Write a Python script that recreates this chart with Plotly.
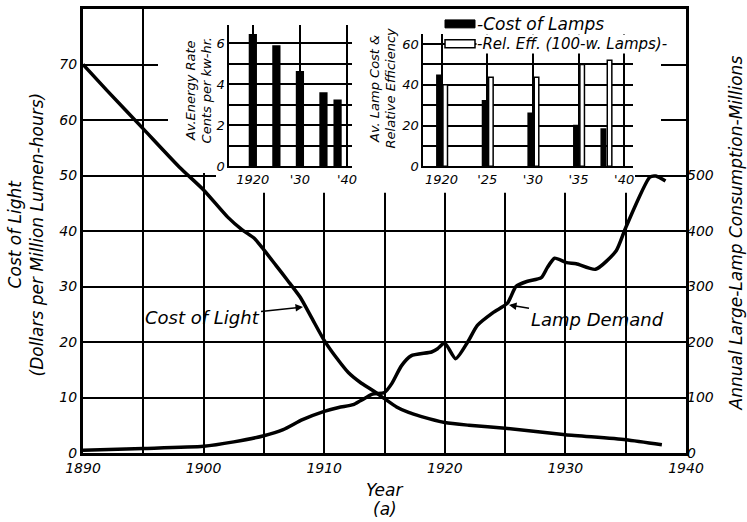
import plotly.graph_objects as go

# ---------------- data ----------------
cost_years = [1890, 1892, 1895, 1898, 1900, 1902, 1903.2, 1904.2, 1905, 1906, 1907, 1908,
              1909, 1910, 1911, 1912, 1913, 1914, 1915, 1916, 1917, 1918, 1920, 1922,
              1925, 1930, 1935, 1938]
cost_of_light = [70, 65.3, 58.4, 51.5, 47.4, 42.5, 40.2, 38.7, 36.6, 33.8, 31.0, 28.1,
                 24.2, 20.3, 17.2, 14.5, 12.7, 11.3, 9.8, 8.3, 7.3, 6.6, 5.5, 5.0,
                 4.45, 3.3, 2.4, 1.5]

demand_years = [1890, 1895, 1900, 1902.5, 1905, 1906.6, 1908.2, 1910, 1911.2, 1912.4, 1913,
                1914, 1915, 1915.6, 1916.4, 1917.2, 1918.9, 1919.4, 1920, 1920.9, 1921.9,
                1922.7, 1924, 1925.2, 1925.9, 1926.8, 1928, 1928.5, 1929.1, 1930.1, 1930.9,
                1932.5, 1934.2, 1935, 1937, 1937.5, 1938.3]
lamp_demand = [5, 8, 12, 20, 31, 42, 60, 75, 82, 87, 94,
               106, 109, 125, 157, 175, 182, 188, 198, 170, 200,
               230, 253, 270, 300, 309, 316, 334, 351, 343, 341,
               331, 364, 406, 497, 499, 490]

energy_years = [1920, 1925, 1930, 1935, 1938]
energy_rate = [6.45, 5.9, 4.65, 3.6, 3.25]

lamp_years = [1920, 1925, 1930, 1935, 1938]
lamp_cost = [45, 32.5, 26.4, 20.4, 18.6]
rel_eff = [40, 43.7, 43.7, 50, 52]

x_tickvals = [1890, 1895, 1900, 1905, 1910, 1915, 1920, 1925, 1930, 1935, 1940]
x_ticktext = ["1890", "", "1900", "", "1910", "", "1920", "", "1930", "", "1940"]
y_tickvals = [0, 10, 20, 30, 40, 50, 60, 70, 80]
y_ticktext = ["0", "10", "20", "30", "40", "50", "60", "70", ""]
y2_tickvals = [0, 100, 200, 300, 400, 500]
y2_ticktext = ["0", "100", "200", "300", "400", "500"]

inset1_xtickvals = [1920, 1930, 1940]
inset1_xticktext = ["1920", "'30", "'40"]
inset1_ytickvals = [0, 1, 2, 3, 4, 5, 6]
inset1_yticktext = ["0", "", "2", "", "4", "", "6"]

inset2_xtickvals = [1920, 1925, 1930, 1935, 1940]
inset2_xticktext = ["1920", "'25", "'30", "'35", "'40"]
inset2_ytickvals = [0, 10, 20, 30, 40, 50, 60]
inset2_yticktext = ["0", "", "20", "", "40", "", "60"]

# ---------------- layout constants ----------------
W, H = 747, 522
L, R, T, B = 83, 61, 6, 69
PW, PH = W - L - R, H - T - B
X0, X1 = 1890, 1940
Y0, Y1 = 0, 80


def px2x(px):
    return X0 + (px - L) / PW * (X1 - X0)


def py2y(py):
    return Y0 + (T + PH - py) / PH * (Y1 - Y0)


def pxp(px):
    return (px - L) / PW


def pyp(py):
    return (T + PH - py) / PH


FONT = "DejaVu Sans"
ital = lambda s: dict(family=FONT, size=s, color="black", style="italic")

fig = go.Figure()

fig.add_trace(go.Scatter(x=cost_years, y=cost_of_light, mode="lines",
                         line=dict(color="black", width=3.5, shape="spline", smoothing=0.6),
                         xaxis="x", yaxis="y", showlegend=False, hoverinfo="skip"))
fig.add_trace(go.Scatter(x=demand_years, y=lamp_demand, mode="lines",
                         line=dict(color="black", width=3.5, shape="spline", smoothing=0.6),
                         xaxis="x", yaxis="y2", showlegend=False, hoverinfo="skip"))

# inset 1 bars
fig.add_trace(go.Bar(x=energy_years, y=energy_rate, width=1.75,
                     marker=dict(color="black", line=dict(width=0)),
                     xaxis="x3", yaxis="y3", showlegend=False, hoverinfo="skip"))
# inset 2 bars
fig.add_trace(go.Bar(x=lamp_years, y=lamp_cost, width=0.65, offset=-0.6,
                     marker=dict(color="black", line=dict(width=0)),
                     xaxis="x4", yaxis="y4", showlegend=False, hoverinfo="skip"))
fig.add_trace(go.Bar(x=lamp_years, y=rel_eff, width=0.5, offset=0.15,
                     marker=dict(color="white", line=dict(color="black", width=1.5)),
                     xaxis="x4", yaxis="y4", showlegend=False, hoverinfo="skip"))

grid = dict(showgrid=True, gridcolor="black", gridwidth=1.6, zeroline=False)

fig.update_layout(
    width=W, height=H,
    margin=dict(l=L, r=R, t=T, b=B, pad=0),
    paper_bgcolor="white", plot_bgcolor="white",
    barmode="overlay",
    xaxis=dict(domain=[0, 1], range=[X0, X1], tickvals=x_tickvals, ticktext=x_ticktext,
               ticks="", tickfont=ital(14), showline=True, linecolor="black", linewidth=3,
               mirror=True, **grid),
    yaxis=dict(domain=[0, 1], range=[Y0, Y1], tickvals=y_tickvals, ticktext=y_ticktext,
               ticks="", tickfont=ital(14), showline=True, linecolor="black", linewidth=3,
               mirror=True, **grid),
    yaxis2=dict(overlaying="y", side="right", range=[0, 800], tickvals=y2_tickvals,
                ticktext=y2_ticktext, ticks="", tickfont=ital(14), showgrid=False,
                zeroline=False, showline=False),
    xaxis3=dict(domain=[pxp(229.3), pxp(351.7)], range=[1915, 1941], anchor="y3",
                tickvals=inset1_xtickvals, ticktext=inset1_xticktext, ticks="",
                tickfont=ital(13), showline=True, linecolor="black", linewidth=2, **grid),
    yaxis3=dict(domain=[pyp(164), pyp(22)], range=[0, 6.9], anchor="x3",
                tickvals=inset1_ytickvals, ticktext=inset1_yticktext, ticks="",
                tickfont=ital(13), showline=True, linecolor="black", linewidth=2, **grid),
    xaxis4=dict(domain=[pxp(423.3), pxp(633.3)], range=[1918, 1941], anchor="y4",
                tickvals=inset2_xtickvals, ticktext=inset2_xticktext, ticks="",
                tickfont=ital(13), showline=True, linecolor="black", linewidth=2, **grid),
    yaxis4=dict(domain=[pyp(164.3), pyp(31)], range=[0, 65], anchor="x4",
                tickvals=inset2_ytickvals, ticktext=inset2_yticktext, ticks="",
                tickfont=ital(13), showline=True, linecolor="black", linewidth=2, **grid),
)

# white mask hiding the main grid behind the insets
mask_px = [(158, 6), (661, 6), (661, 171), (635, 171), (635, 191), (216, 191),
           (216, 171), (168, 171), (168, 92), (158, 92)]
path = "M " + " L ".join(f"{px2x(a):.3f},{py2y(b):.3f}" for a, b in mask_px) + " Z"
fig.add_shape(type="path", path=path, xref="x", yref="y", layer="between",
              fillcolor="white", line=dict(width=0))

# legend of inset 2
fig.add_shape(type="rect", xref="paper", yref="paper", x0=pxp(445), x1=pxp(475),
              y0=pyp(25), y1=pyp(17), fillcolor="black", line=dict(color="black", width=1),
              layer="above")
fig.add_shape(type="rect", xref="paper", yref="paper", x0=pxp(445), x1=pxp(475),
              y0=pyp(45), y1=pyp(37), fillcolor="white", line=dict(color="black", width=1.5),
              layer="above")
fig.add_annotation(text="-Cost of Lamps", xref="paper", yref="paper", x=pxp(476),
                   y=pyp(21), xanchor="left", yanchor="middle", showarrow=False,
                   font=ital(17), bgcolor="white", borderpad=0)
fig.add_annotation(text="-Rel. Eff. (100-w. Lamps)-", xref="paper", yref="paper",
                   x=pxp(476), y=pyp(41), xanchor="left", yanchor="middle", showarrow=False,
                   font=ital(15), bgcolor="white", borderpad=0)

# axis titles
fig.add_annotation(text="Cost of Light<br>(Dollars per Million Lumen-hours)", xref="paper",
                   yref="paper", x=pxp(26), y=pyp(233), textangle=-90, showarrow=False,
                   font=ital(17), xanchor="center", yanchor="middle")
fig.add_annotation(text="Annual Large-Lamp Consumption-Millions", xref="paper",
                   yref="paper", x=pxp(736), y=pyp(232), textangle=-90, showarrow=False,
                   font=ital(17), xanchor="center", yanchor="middle")
fig.add_annotation(text="Year", xref="paper", yref="paper", x=0.5, y=pyp(490),
                   showarrow=False, font=ital(17), xanchor="center", yanchor="middle")
fig.add_annotation(text="(a)", xref="paper", yref="paper", x=0.5, y=pyp(509),
                   showarrow=False, font=ital(17), xanchor="center", yanchor="middle")
fig.add_annotation(text="Av.Energy Rate<br>Cents per kw-hr.", xref="paper", yref="paper",
                   x=pxp(199), y=pyp(88), textangle=-90, showarrow=False, font=ital(13),
                   xanchor="center", yanchor="middle")
fig.add_annotation(text="Av. Lamp Cost &amp;<br>Relative Efficiency", xref="paper",
                   yref="paper", x=pxp(383), y=pyp(86), textangle=-90, showarrow=False,
                   font=ital(13), xanchor="center", yanchor="middle")

# curve labels with arrows
fig.add_annotation(text="Cost of Light", xref="x", yref="y", x=px2x(303), y=py2y(306),
                   ax=-101, ay=11, showarrow=True, arrowhead=2, arrowsize=1, arrowwidth=1.5,
                   arrowcolor="black", font=ital(18), standoff=0)
fig.add_annotation(text="Lamp Demand", xref="x", yref="y", x=px2x(509), y=py2y(304),
                   ax=88, ay=14, showarrow=True, arrowhead=2, arrowsize=1, arrowwidth=1.5,
                   arrowcolor="black", font=ital(18), standoff=0)

fig.write_html("out.html", config={"displayModeBar": False},
               post_script="document.body.style.margin='0';")
